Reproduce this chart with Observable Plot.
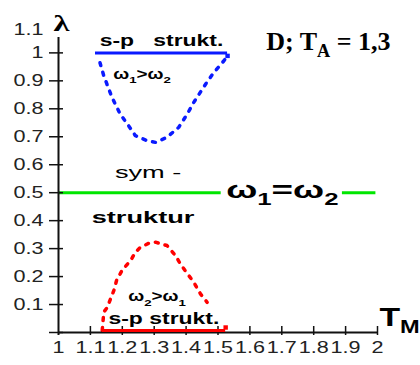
<!DOCTYPE html>
<html>
<head>
<meta charset="utf-8">
<script src="https://cdn.jsdelivr.net/npm/d3@7"></script>
<script src="https://cdn.jsdelivr.net/npm/@observablehq/plot@0.6"></script>
<style>
  body { margin: 0; background: #fff; }
  #chart svg { display: block; background: #fff; }
</style>
</head>
<body>
<div id="chart"></div>
<script>
// Axes
const xTicks = [1, 1.1, 1.2, 1.3, 1.4, 1.5, 1.6, 1.7, 1.8, 1.9, 2];
const xTickLabels = ["1", "1.1", "1.2", "1.3", "1.4", "1.5", "1.6", "1.7", "1.8", "1.9", "2"];
const yTicks = [0, 0.1, 0.2, 0.3, 0.4, 0.5, 0.6, 0.7, 0.8, 0.9, 1];
const yLabelValues = [0.1, 0.2, 0.3, 0.4, 0.5, 0.6, 0.7, 0.8, 0.9, 1];
const yTickLabels = ["0.1", "0.2", "0.3", "0.4", "0.5", "0.6", "0.7", "0.8", "0.9", "1"];
const yTopValue = 1.1;
const yTopLabel = "1.1";

// ω1 > ω2 branch (λ below 1, s-p structure at λ = 1)
const blueT = [1.13, 1.142, 1.168, 1.194, 1.22, 1.241, 1.278, 1.304, 1.34, 1.377, 1.403, 1.424, 1.461, 1.487, 1.518, 1.53];
const blueL = [0.965, 0.918, 0.84, 0.78, 0.739, 0.704, 0.686, 0.68, 0.698, 0.734, 0.78, 0.823, 0.888, 0.93, 0.971, 0.99];
const spTop = {x1: 1.116, x2: 1.53, y: 1};

// ω2 > ω1 branch (λ above 0, s-p structure at λ = 0)
const redT = [1.137, 1.142, 1.153, 1.163, 1.174, 1.182, 1.2, 1.226, 1.241, 1.257, 1.283, 1.304, 1.34, 1.367, 1.382, 1.403, 1.424, 1.445, 1.466];
const redL = [0.007, 0.073, 0.09, 0.12, 0.152, 0.186, 0.224, 0.257, 0.287, 0.305, 0.319, 0.323, 0.311, 0.275, 0.245, 0.212, 0.18, 0.138, 0.108];
const spBottom = {x1: 1.137, x2: 1.524, y: 0};

// symmetric structure ω1 = ω2 at λ = 0.5
const symLevel = 0.5;
const symSegments = [{x1: 1, x2: 1.51}, {x1: 1.89, x2: 1.995}];

const titleText = "D; T_{A} = 1,3";
const symLabel = "ω_{1}=ω_{2}";
const symUpper = "sym -";
const symLower = "struktur";

const blue = "#0a1aff", red = "#ff0000", green = "#00e600";

const blueCurve = blueT.map((t, i) => ({t, l: blueL[i]}));
const redCurve = redT.map((t, i) => ({t, l: redL[i]}));
const yLabels = yLabelValues.map((v, i) => ({v, label: yTickLabels[i]}));
const xLabels = xTicks.map((v, i) => ({v, label: xTickLabels[i]}));
const mid = (s) => (s.x1 + s.x2) / 2;

const chart = Plot.plot({
  width: 420,
  height: 365,
  marginLeft: 58,
  marginRight: 43,
  marginTop: 37,
  marginBottom: 33,
  x: {domain: [1, 2], axis: null},
  y: {domain: [0, 1.055], axis: null},
  style: {fontFamily: "'Liberation Sans', Arial, sans-serif", background: "white", overflow: "visible"},
  marks: [
    // ω1 = ω2 line
    Plot.ruleY(symSegments, {x1: "x1", x2: "x2", y: symLevel, stroke: green, strokeWidth: 3}),
    // dotted branches
    Plot.line(blueCurve, {x: "t", y: "l", stroke: blue, strokeWidth: 3.5, strokeDasharray: "3,7"}),
    Plot.line(redCurve, {x: "t", y: "l", stroke: red, strokeWidth: 3.5, strokeDasharray: "3,7"}),
    // s-p structure at λ = 1
    Plot.ruleY([spTop], {x1: "x1", x2: "x2", y: "y", stroke: blue, strokeWidth: 3}),
    Plot.dot([spTop], {x: "x2", y: "y", dy: 3, symbol: "square", r: 2.5, fill: blue}),
    // axes
    Plot.ruleX([1], {stroke: "#111", strokeWidth: 2, insetBottom: -3}),
    Plot.ruleY([0], {stroke: "#111", strokeWidth: 2}),
    Plot.ruleY(yTicks, {y: (d) => d, x1: 1, x2: 1, insetLeft: -9, insetRight: -5, stroke: "#111", strokeWidth: 1.5}),
    Plot.ruleX(xTicks.slice(1), {x: (d) => d, y1: 0, y2: 0, insetTop: -6, insetBottom: -3, stroke: "#111", strokeWidth: 1.5}),
    // s-p structure at λ = 0
    Plot.ruleY([spBottom], {x1: "x1", x2: "x2", y: "y", dy: -2, stroke: red, strokeWidth: 3}),
    Plot.dot([spBottom], {x: "x2", y: "y", dy: -5, symbol: "square", r: 2.5, fill: red}),
    // tick labels
    Plot.text(yLabels, {x: 1, y: "v", text: "label", textAnchor: "end", dx: -15, fontSize: 16, fill: "#222"}),
    Plot.text([yTopLabel], {x: 1, y: yTopValue, text: (d) => d, textAnchor: "end", dx: -15, dy: 4.5, fontSize: 16, fill: "#222"}),
    Plot.text(xLabels, {x: "v", y: 0, text: "label", dy: 15.5, fontSize: 16, fill: "#222"}),
    // axis names
    Plot.text(["λ"], {x: 1, y: yTopValue, text: (d) => d, dx: 3, dy: 6, lineAnchor: "bottom", fontFamily: "'Liberation Serif', serif", fontWeight: "bold", fontSize: 24}),
    Plot.text(["T_{M}"], {x: 2, y: 0, text: (d) => d, textAnchor: "start", lineAnchor: "bottom", dx: 2, dy: -7, fontWeight: "bold", fontSize: 25}),
    // annotations
    Plot.text(["s-p\u00a0\u00a0 strukt."], {x: mid(spTop), y: spTop.y, text: (d) => d, dy: -7, lineAnchor: "bottom", fontWeight: "bold", fontSize: 17}),
    Plot.text(["ω_{1}>ω_{2}"], {x: 1.262, y: 0.908, text: (d) => d, lineAnchor: "bottom", fontWeight: "bold", fontSize: 14}),
    Plot.text([symUpper], {x: 1.281, y: symLevel, text: (d) => d, dy: -15, lineAnchor: "bottom", fontSize: 17}),
    Plot.text([symLower], {x: 1.265, y: symLevel, text: (d) => d, dy: 30, lineAnchor: "bottom", fontWeight: "bold", fontSize: 17}),
    Plot.text([symLabel], {x: symSegments[0].x2, y: symLevel, text: (d) => d, dx: 5, dy: 5, textAnchor: "start", lineAnchor: "bottom", fontWeight: "bold", fontSize: 23}),
    Plot.text(["ω_{2}>ω_{1}"], {x: 1.309, y: 0.104, text: (d) => d, dy: -2, lineAnchor: "bottom", fontWeight: "bold", fontSize: 14}),
    Plot.text(["s-p strukt."], {x: mid(spBottom), y: spBottom.y, text: (d) => d, dy: -9, lineAnchor: "bottom", fontWeight: "bold", fontSize: 17}),
    // heading
    Plot.text([titleText], {frameAnchor: "top-right", text: (d) => d, dx: 13, dy: 12, textAnchor: "end", lineAnchor: "bottom", fontFamily: "'Liberation Serif', 'Times New Roman', serif", fontWeight: "bold", fontSize: 26})
  ]
});

document.getElementById("chart").appendChild(chart);

// horizontally widened lettering (the heading keeps its natural width)
const widerLabels = new Set([symLabel, symUpper, symLower]);
chart.querySelectorAll("text").forEach((t) => {
  const s = t.textContent;
  if (s === titleText) return;
  const k = widerLabels.has(s) ? 1.6 : 1.35;
  const tr = t.getAttribute("transform");
  if (tr) {
    t.setAttribute("transform", `${tr} scale(${k},1)`);
  } else {
    const x = +(t.getAttribute("x") || 0), y = +(t.getAttribute("y") || 0);
    t.setAttribute("transform", `translate(${x},${y}) scale(${k},1) translate(${-x},${-y})`);
  }
});

// "_{...}" in a label becomes a subscript
const SVGNS = "http://www.w3.org/2000/svg";
chart.querySelectorAll("text").forEach((t) => {
  const s = t.textContent;
  if (!s.includes("_{")) return;
  const fs = parseFloat(getComputedStyle(t).fontSize);
  const shift = 0.3 * fs;
  const parts = s.split(/_\{([^}]*)\}/);
  t.textContent = "";
  let offset = 0;
  parts.forEach((p, i) => {
    if (!p) return;
    const ts = document.createElementNS(SVGNS, "tspan");
    const target = i % 2 ? shift : 0;
    if (target !== offset) { ts.setAttribute("dy", target - offset); offset = target; }
    if (i % 2) ts.setAttribute("font-size", 0.7 * fs);
    ts.textContent = p;
    t.appendChild(ts);
  });
});
</script>
</body>
</html>
